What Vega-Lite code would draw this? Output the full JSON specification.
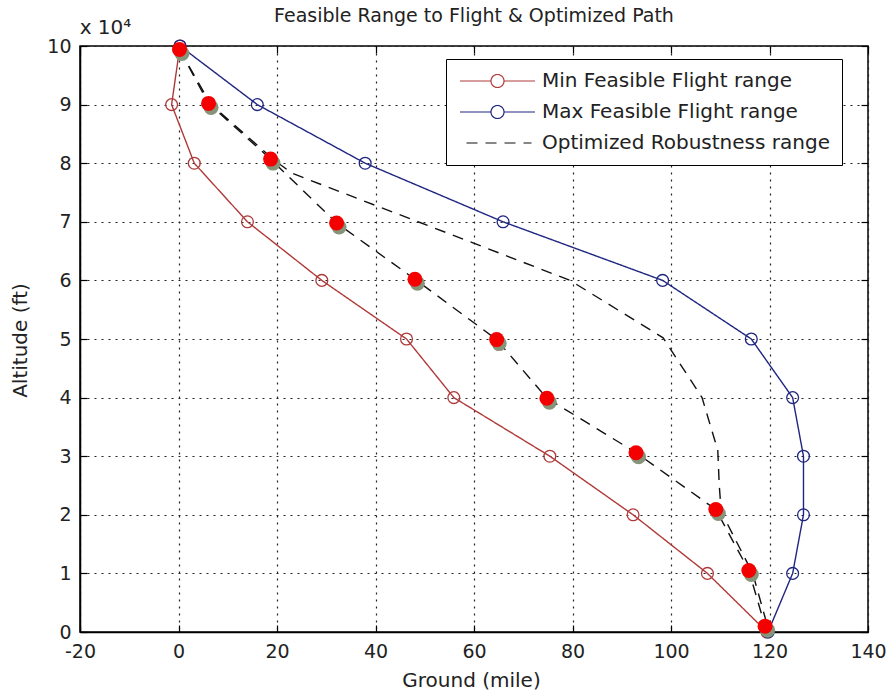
{
  "$schema": "https://vega.github.io/schema/vega-lite/v6.json",
  "width": 788,
  "height": 586,
  "autosize": {"type": "none"},
  "padding": {"left": 80, "top": 46, "right": 22, "bottom": 63},
  "background": "#ffffff",
  "config": {
    "font": "DejaVu Sans",
    "view": {"stroke": "#000000", "strokeWidth": 1.5},
    "axis": {
      "labelFont": "DejaVu Sans",
      "titleFont": "DejaVu Sans",
      "labelFontSize": 19,
      "titleFontSize": 20,
      "labelColor": "#222222",
      "titleColor": "#222222",
      "titleFontWeight": "normal",
      "domainColor": "#000000",
      "domainWidth": 1.5,
      "tickColor": "#000000",
      "tickWidth": 1.2,
      "tickSize": -7,
      "gridColor": "#222222",
      "gridDash": [2, 5],
      "gridWidth": 1.2,
      "gridOpacity": 1
    },
    "legend": {
      "labelFont": "DejaVu Sans",
      "labelFontSize": 20,
      "labelColor": "#222222"
    }
  },
  "title": {
    "text": "Feasible Range to Flight & Optimized Path",
    "font": "DejaVu Sans",
    "fontSize": 19,
    "fontWeight": "normal",
    "color": "#222222",
    "anchor": "middle",
    "frame": "group",
    "baseline": "alphabetic",
    "offset": -24
  },
  "datasets": {
    "curves": [
      {"series": "Min Feasible Flight range", "path": "min", "ord": 0, "ground": 0.3, "alt": 100000},
      {"series": "Min Feasible Flight range", "path": "min", "ord": 1, "ground": -1.4, "alt": 90000},
      {"series": "Min Feasible Flight range", "path": "min", "ord": 2, "ground": 3.2, "alt": 80000},
      {"series": "Min Feasible Flight range", "path": "min", "ord": 3, "ground": 14.0, "alt": 70000},
      {"series": "Min Feasible Flight range", "path": "min", "ord": 4, "ground": 29.1, "alt": 60000},
      {"series": "Min Feasible Flight range", "path": "min", "ord": 5, "ground": 46.3, "alt": 50000},
      {"series": "Min Feasible Flight range", "path": "min", "ord": 6, "ground": 55.9, "alt": 40000},
      {"series": "Min Feasible Flight range", "path": "min", "ord": 7, "ground": 75.4, "alt": 30000},
      {"series": "Min Feasible Flight range", "path": "min", "ord": 8, "ground": 92.3, "alt": 20000},
      {"series": "Min Feasible Flight range", "path": "min", "ord": 9, "ground": 107.4, "alt": 10000},
      {"series": "Min Feasible Flight range", "path": "min", "ord": 10, "ground": 119.5, "alt": 0},
      {"series": "Max Feasible Flight range", "path": "max", "ord": 0, "ground": 0.3, "alt": 100000},
      {"series": "Max Feasible Flight range", "path": "max", "ord": 1, "ground": 16.0, "alt": 90000},
      {"series": "Max Feasible Flight range", "path": "max", "ord": 2, "ground": 37.9, "alt": 80000},
      {"series": "Max Feasible Flight range", "path": "max", "ord": 3, "ground": 65.9, "alt": 70000},
      {"series": "Max Feasible Flight range", "path": "max", "ord": 4, "ground": 98.3, "alt": 60000},
      {"series": "Max Feasible Flight range", "path": "max", "ord": 5, "ground": 116.3, "alt": 50000},
      {"series": "Max Feasible Flight range", "path": "max", "ord": 6, "ground": 124.7, "alt": 40000},
      {"series": "Max Feasible Flight range", "path": "max", "ord": 7, "ground": 126.9, "alt": 30000},
      {"series": "Max Feasible Flight range", "path": "max", "ord": 8, "ground": 126.9, "alt": 20000},
      {"series": "Max Feasible Flight range", "path": "max", "ord": 9, "ground": 124.7, "alt": 10000},
      {"series": "Max Feasible Flight range", "path": "max", "ord": 10, "ground": 119.7, "alt": 0},
      {"series": "Optimized Robustness range", "path": "optA", "ord": 0, "ground": 0.2, "alt": 99400},
      {"series": "Optimized Robustness range", "path": "optA", "ord": 1, "ground": 6.1, "alt": 90200},
      {"series": "Optimized Robustness range", "path": "optA", "ord": 2, "ground": 18.7, "alt": 80700},
      {"series": "Optimized Robustness range", "path": "optA", "ord": 3, "ground": 32.1, "alt": 69800},
      {"series": "Optimized Robustness range", "path": "optA", "ord": 4, "ground": 48.0, "alt": 60200},
      {"series": "Optimized Robustness range", "path": "optA", "ord": 5, "ground": 64.6, "alt": 49900},
      {"series": "Optimized Robustness range", "path": "optA", "ord": 6, "ground": 74.8, "alt": 39900},
      {"series": "Optimized Robustness range", "path": "optA", "ord": 7, "ground": 92.9, "alt": 30600},
      {"series": "Optimized Robustness range", "path": "optA", "ord": 8, "ground": 109.1, "alt": 20900},
      {"series": "Optimized Robustness range", "path": "optA", "ord": 9, "ground": 115.8, "alt": 10500},
      {"series": "Optimized Robustness range", "path": "optA", "ord": 10, "ground": 119.1, "alt": 1000},
      {"series": "Optimized Robustness range", "path": "optB", "ord": 0, "ground": 0.2, "alt": 99400},
      {"series": "Optimized Robustness range", "path": "optB", "ord": 1, "ground": 6.6, "alt": 90000},
      {"series": "Optimized Robustness range", "path": "optB", "ord": 2, "ground": 19.5, "alt": 80500},
      {"series": "Optimized Robustness range", "path": "optB", "ord": 3, "ground": 23.0, "alt": 78300},
      {"series": "Optimized Robustness range", "path": "optB", "ord": 4, "ground": 40.9, "alt": 72500},
      {"series": "Optimized Robustness range", "path": "optB", "ord": 5, "ground": 59.8, "alt": 66400},
      {"series": "Optimized Robustness range", "path": "optB", "ord": 6, "ground": 79.5, "alt": 60000},
      {"series": "Optimized Robustness range", "path": "optB", "ord": 7, "ground": 98.4, "alt": 50200},
      {"series": "Optimized Robustness range", "path": "optB", "ord": 8, "ground": 106.3, "alt": 40000},
      {"series": "Optimized Robustness range", "path": "optB", "ord": 9, "ground": 109.5, "alt": 31000},
      {"series": "Optimized Robustness range", "path": "optB", "ord": 10, "ground": 109.8, "alt": 25000},
      {"series": "Optimized Robustness range", "path": "optB", "ord": 11, "ground": 110.2, "alt": 20500},
      {"series": "Optimized Robustness range", "path": "optB", "ord": 12, "ground": 116.6, "alt": 10000},
      {"series": "Optimized Robustness range", "path": "optB", "ord": 13, "ground": 119.6, "alt": 1000}
    ],
    "dots": [
      {"ground": 0.2, "alt": 99400},
      {"ground": 6.1, "alt": 90200},
      {"ground": 18.7, "alt": 80700},
      {"ground": 32.1, "alt": 69800},
      {"ground": 48.0, "alt": 60200},
      {"ground": 64.6, "alt": 49900},
      {"ground": 74.8, "alt": 39900},
      {"ground": 92.9, "alt": 30600},
      {"ground": 109.1, "alt": 20900},
      {"ground": 115.8, "alt": 10500},
      {"ground": 119.1, "alt": 1000}
    ]
  },
  "resolve": {"axis": {"x": "independent", "y": "independent"}},
  "layer": [
    {
      "data": {"name": "curves"},
      "mark": {"type": "line", "strokeWidth": 1.4},
      "encoding": {
        "x": {
          "field": "ground", "type": "quantitative",
          "scale": {"domain": [-20, 140], "nice": false, "zero": false},
          "axis": {
            "orient": "bottom",
            "values": [-20, 0, 20, 40, 60, 80, 100, 120, 140],
            "labelExpr": "datum.value < 0 ? '-' + abs(datum.value) : '' + datum.value",
            "grid": true,
            "labelPadding": 17,
            "labelFlush": false,
            "title": "Ground (mile)",
            "titleX": 391,
            "titleY": 38,
            "titleAlign": "center",
            "titleBaseline": "top"
          }
        },
        "y": {
          "field": "alt", "type": "quantitative",
          "scale": {"domain": [0, 100000], "nice": false, "zero": false},
          "axis": {
            "orient": "left",
            "values": [0, 10000, 20000, 30000, 40000, 50000, 60000, 70000, 80000, 90000, 100000],
            "labelExpr": "'' + round(datum.value / 10000)",
            "grid": true,
            "labelPadding": 16,
            "labelFlush": false,
            "title": "Altitude (ft)",
            "titleX": -60,
            "titleY": 294,
            "titleAngle": 270,
            "titleAlign": "center",
            "titleBaseline": "middle"
          }
        },
        "color": {
          "field": "series", "type": "nominal",
          "scale": {
            "domain": ["Min Feasible Flight range", "Max Feasible Flight range", "Optimized Robustness range"],
            "range": ["#b03a3a", "#1f2680", "#111111"]
          },
          "legend": {
            "title": null,
            "orient": "none",
            "legendX": 366,
            "legendY": 13,
            "padding": 12,
            "strokeColor": "#000000",
            "fillColor": "#ffffff",
            "cornerRadius": 0,
            "symbolSize": 100,
            "symbolStrokeWidth": 1.2,
            "symbolOffset": 29.5,
            "labelOffset": 34.5,
            "rowPadding": 11,
            "labelLimit": 400,
            "encoding": {
              "symbols": {
                "shape": {"value": {"expr": "datum.value === 'Optimized Robustness range' ? 'M-6.2,0H6.8' : 'M-7.5,0H-1.3M1.3,0H7.5M-1.3,0A1.3,1.3 0 1,0 1.3,0A1.3,1.3 0 1,0 -1.3,0'"}},
                "fill": {"value": "transparent"}
              }
            }
          }
        },
        "strokeDash": {
          "field": "series", "type": "nominal",
          "scale": {
            "domain": ["Min Feasible Flight range", "Max Feasible Flight range", "Optimized Robustness range"],
            "range": [[1, 0], [1, 0], [11, 8]]
          },
          "legend": {
            "title": null,
            "orient": "none",
            "legendX": 366,
            "legendY": 13
          }
        },
        "detail": {"field": "path", "type": "nominal"},
        "order": {"field": "ord", "type": "quantitative"}
      }
    },
    {
      "data": {"name": "curves"},
      "transform": [{"filter": "datum.path === 'min' || datum.path === 'max'"}],
      "mark": {"type": "point", "filled": false, "size": 140, "strokeWidth": 1.3, "opacity": 1},
      "encoding": {
        "x": {
          "field": "ground", "type": "quantitative",
          "axis": {
            "orient": "top",
            "values": [-20, 0, 20, 40, 60, 80, 100, 120, 140],
            "labels": false,
            "grid": false,
            "domain": false,
            "title": null
          }
        },
        "y": {
          "field": "alt", "type": "quantitative",
          "axis": {
            "orient": "right",
            "values": [0, 10000, 20000, 30000, 40000, 50000, 60000, 70000, 80000, 90000, 100000],
            "labels": false,
            "grid": false,
            "domain": false,
            "title": "x 10⁴",
            "titleFontSize": 20,
            "titleAngle": 0,
            "titleX": -763,
            "titleY": -19,
            "titleAlign": "center",
            "titleBaseline": "middle"
          }
        },
        "color": {"field": "series", "type": "nominal", "legend": null}
      }
    },
    {
      "data": {"name": "dots"},
      "mark": {"type": "circle", "size": 225, "color": "#86947a", "opacity": 1, "xOffset": 2.5, "yOffset": 4},
      "encoding": {
        "x": {"field": "ground", "type": "quantitative", "axis": null},
        "y": {"field": "alt", "type": "quantitative", "axis": null}
      }
    },
    {
      "data": {"name": "dots"},
      "mark": {"type": "circle", "size": 225, "color": "#f50000", "opacity": 1},
      "encoding": {
        "x": {"field": "ground", "type": "quantitative", "axis": null},
        "y": {"field": "alt", "type": "quantitative", "axis": null}
      }
    }
  ]
}
